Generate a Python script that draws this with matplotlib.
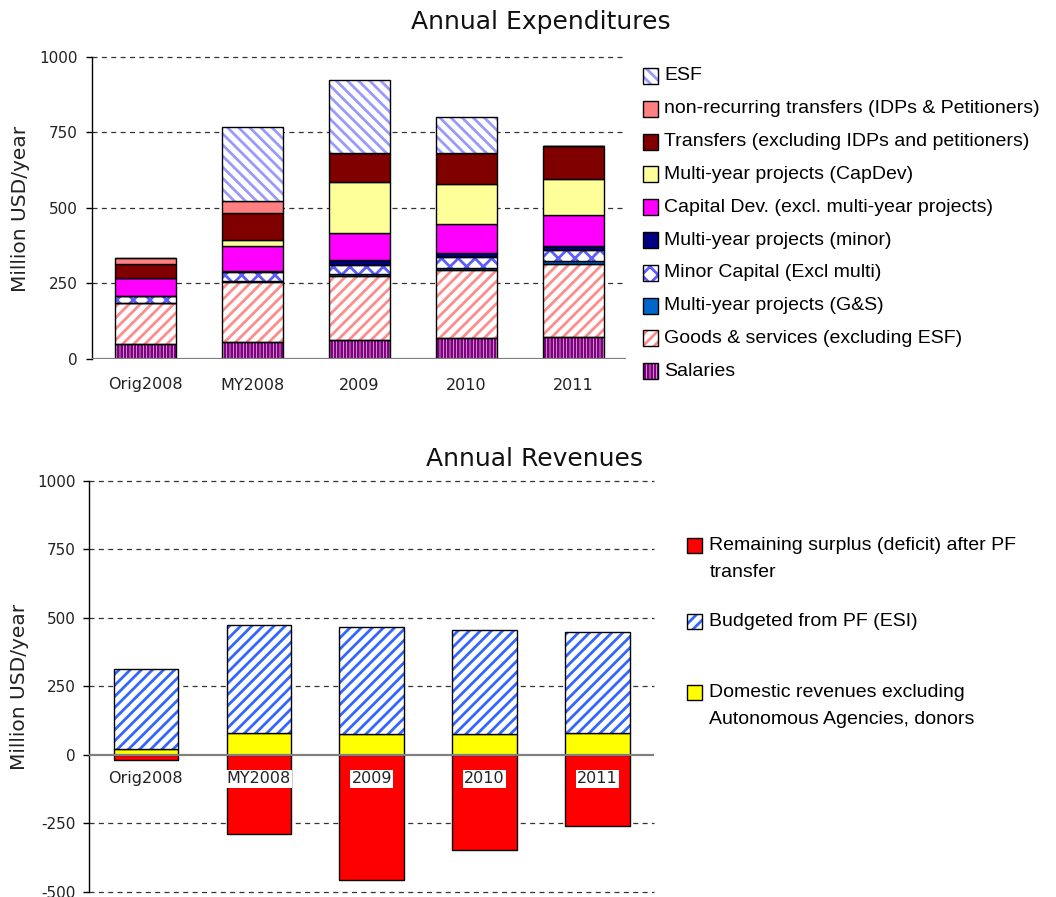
import matplotlib
matplotlib.use("Agg")
import matplotlib.pyplot as plt
from matplotlib import font_manager, transforms
from matplotlib.patches import Rectangle
import numpy as np

# ---------------- data ----------------
categories = ["Orig2008", "MY2008", "2009", "2010", "2011"]

salaries = [48, 57, 64, 68, 73]
goods_services = [138, 199, 212, 226, 242]
multi_gs = [0, 3, 6, 7, 8]
minor_capital = [22, 30, 30, 36, 36]
multi_minor = [0, 3, 16, 15, 16]
capital_dev = [61, 83, 89, 93, 100]
multi_capdev = [0, 19, 168, 133, 119]
transfers = [44, 89, 97, 103, 111]
nonrecurring = [20, 41, 0, 0, 0]
esf = [0, 242, 240, 120, 0]

domestic_rev = [20, 78, 77, 77, 78]
budgeted_pf = [294, 397, 390, 377, 371]
remaining = [-20, -291, -456, -346, -259]

exp_labels = ["ESF",
              "non-recurring transfers (IDPs & Petitioners)",
              "Transfers (excluding IDPs and petitioners)",
              "Multi-year projects (CapDev)",
              "Capital Dev. (excl. multi-year projects)",
              "Multi-year projects (minor)",
              "Minor Capital (Excl multi)",
              "Multi-year projects (G&S)",
              "Goods & services (excluding ESF)",
              "Salaries"]

rev_labels = [["Remaining surplus (deficit) after PF", "transfer"],
              ["Budgeted from PF (ESI)"],
              ["Domestic revenues excluding", "Autonomous Agencies, donors"]]

# ---------------- fonts ----------------
names = {f.name for f in font_manager.fontManager.ttflist}
if "Liberation Sans Narrow" in names:
    LEG_FONT = ["Liberation Sans Narrow", "DejaVu Sans"]
    LEG_SIZE = 15
else:
    LEG_FONT = ["Liberation Sans", "DejaVu Sans"]
    LEG_SIZE = 14
plt.rcParams["font.family"] = ["DejaVu Sans"]
plt.rcParams["hatch.linewidth"] = 2.0

W, H = 1056, 897
fig = plt.figure(figsize=(W / 100, H / 100), dpi=100)
fig.patch.set_facecolor("white")


def fx(px):
    return px / W


def fy(py):
    return 1 - py / H


# style per series: (facecolor, hatch, hatchcolor)
exp_styles = [
    ("white", "|||||", "#800080"),    # salaries
    ("white", "///", "#FF8C8C"),      # goods
    ("#0066CC", None, None),          # multi G&S
    ("white", "xx", "#5C5CFF"),       # minor capital
    ("#000080", None, None),          # multi minor
    ("#FF00FF", None, None),          # capital dev
    ("#FFFF99", None, None),          # multi capdev
    ("#800000", None, None),          # transfers
    ("#FF8080", None, None),          # nonrecurring
    ("white", "\\\\\\", "#9999FF"),   # ESF
]
exp_series = [salaries, goods_services, multi_gs, minor_capital, multi_minor,
              capital_dev, multi_capdev, transfers, nonrecurring, esf]


def draw_bars(ax, x, heights, bottoms, style, width):
    fc, hatch, hc = style
    if hatch is None:
        ax.bar(x, heights, width, bottom=bottoms, color=fc,
               edgecolor="black", linewidth=1.0, zorder=3)
    else:
        ax.bar(x, heights, width, bottom=bottoms, color=fc,
               edgecolor=hc, hatch=hatch, linewidth=0, zorder=3)
        ax.bar(x, heights, width, bottom=bottoms, fill=False,
               edgecolor="black", linewidth=1.0, zorder=4)


def style_axes(ax, ylim, ticks):
    ax.set_xlim(-0.5, 4.5)
    ax.set_ylim(*ylim)
    ax.set_yticks(ticks)
    ax.set_yticklabels([str(t) for t in ticks], fontsize=11, color="#222222")
    ax.tick_params(axis="y", direction="out", length=4, width=1, pad=6)
    ax.set_xticks([])
    for s in ["top", "right", "bottom"]:
        ax.spines[s].set_visible(False)
    ax.spines["left"].set_color("black")
    ax.spines["left"].set_linewidth(1.0)
    for t in ticks:
        if t != 0:
            ax.axhline(t, color="#333333", lw=0.9, ls=(0, (4, 3.5)), zorder=1,
                       clip_on=False)
    ax.axhline(0, color="#808080", lw=1.6, zorder=5)


def legend_patch(x0, cy, w, h, style):
    fc, hatch, hc = style
    if hatch is None:
        fig.add_artist(Rectangle((fx(x0), fy(cy + h / 2)), w / W, h / H,
                                 transform=fig.transFigure, facecolor=fc,
                                 edgecolor="black", linewidth=1.0))
    else:
        fig.add_artist(Rectangle((fx(x0), fy(cy + h / 2)), w / W, h / H,
                                 transform=fig.transFigure, facecolor=fc,
                                 edgecolor=hc, hatch=hatch, linewidth=0))
        fig.add_artist(Rectangle((fx(x0), fy(cy + h / 2)), w / W, h / H,
                                 transform=fig.transFigure, fill=False,
                                 edgecolor="black", linewidth=1.0))


# ---------------- top chart ----------------
ax1 = fig.add_axes([fx(91.7), fy(359), (626.5 - 91.7) / W, (359 - 56.7) / H])
x = np.arange(len(categories))
bw = 0.57
bottom = np.zeros(len(categories))
for vals, st in zip(exp_series, exp_styles):
    v = np.array(vals, dtype=float)
    draw_bars(ax1, x, v, bottom, st, bw)
    bottom += v
style_axes(ax1, (0, 1000), [0, 250, 500, 750, 1000])
for i, c in enumerate(categories):
    ax1.text(i, 0, c, fontsize=11.5, color="#222222", ha="center", va="center",
             transform=transforms.offset_copy(ax1.transData, fig=fig, x=0, y=-26, units="dots"))

fig.text(fx(541), fy(29), "Annual Expenditures", fontsize=18, ha="center",
         va="baseline", color="#111111")
fig.text(fx(20.5), fy(209), "Million USD/year", fontsize=14.5, rotation=90,
         ha="center", va="center", color="#222222")

# top legend (reverse order of stack)
leg_styles = list(reversed(exp_styles))
for i, (lab, st) in enumerate(zip(exp_labels, leg_styles)):
    cy = 76 + 32.8 * i
    legend_patch(643.3, cy, 15, 16, st)
    fig.text(fx(664.3), fy(cy), lab, family=LEG_FONT, fontsize=LEG_SIZE,
             ha="left", va="center", color="black")

# ---------------- bottom chart ----------------
ax2 = fig.add_axes([fx(89.3), fy(891.7), (654 - 89.3) / W, (891.7 - 481) / H])
rev_styles = [("#FF0000", None, None),
              ("white", "///", "#3366FF"),
              ("#FFFF00", None, None)]
dom = np.array(domestic_rev, dtype=float)
bud = np.array(budgeted_pf, dtype=float)
rem = np.array(remaining, dtype=float)
draw_bars(ax2, x, dom, np.zeros(len(x)), rev_styles[2], bw)
draw_bars(ax2, x, bud, dom, rev_styles[1], bw)
draw_bars(ax2, x, rem, np.zeros(len(x)), rev_styles[0], bw)
style_axes(ax2, (-500, 1000), [-500, -250, 0, 250, 500, 750, 1000])
for i, c in enumerate(categories):
    ax2.text(i, 0, c, fontsize=11.5, color="#222222", ha="center", va="center", zorder=6,
             bbox=dict(facecolor="white", edgecolor="none", pad=1.0),
             transform=transforms.offset_copy(ax2.transData, fig=fig, x=0, y=-24, units="dots"))

fig.text(fx(534.6), fy(466), "Annual Revenues", fontsize=18, ha="center",
         va="baseline", color="#111111")
fig.text(fx(20), fy(686.7), "Million USD/year", fontsize=14.5, rotation=90,
         ha="center", va="center", color="#222222")

rev_leg_centers = [545.5, 621, 692.5]
for lines, cy, st in zip(rev_labels, rev_leg_centers, rev_styles):
    legend_patch(687.3, cy, 15, 15, st)
    for j, ln in enumerate(lines):
        fig.text(fx(709.3), fy(cy + 26.7 * j), ln, family=LEG_FONT, fontsize=LEG_SIZE,
                 ha="left", va="center", color="black")

fig.savefig("out.png", dpi=100, facecolor="white")
